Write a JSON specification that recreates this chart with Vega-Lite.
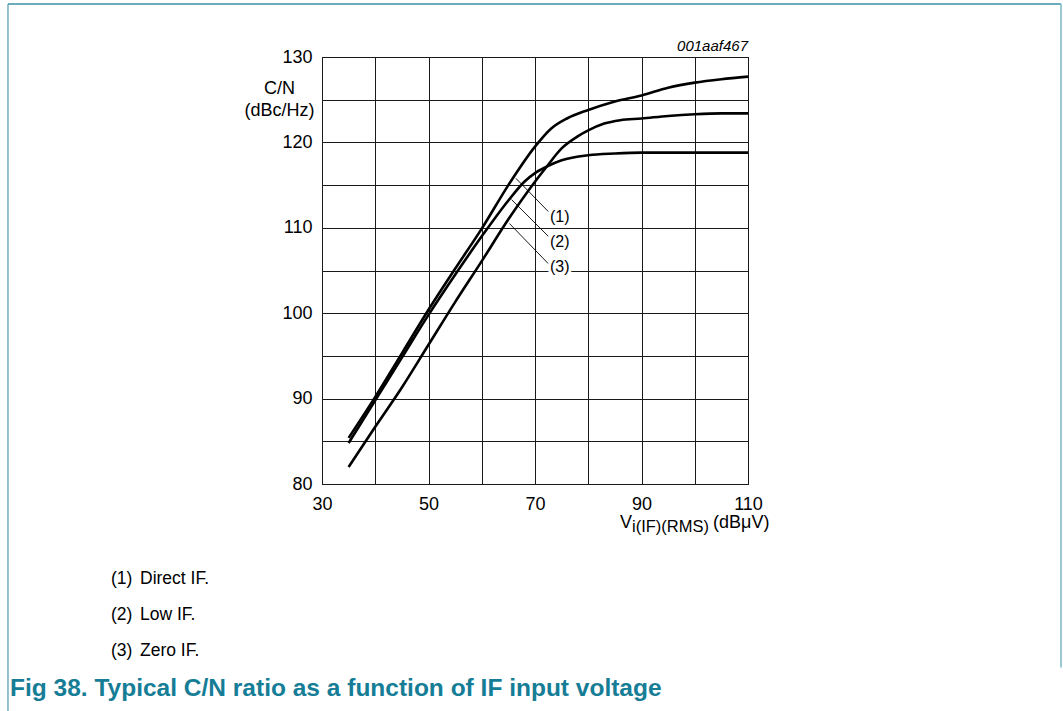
{
  "$schema": "https://vega.github.io/schema/vega-lite/v6.json",
  "width": 426,
  "height": 427,
  "autosize": {"type": "none"},
  "padding": {"left": 322, "top": 57, "right": 315, "bottom": 227},
  "background": "white",
  "config": {
    "view": {"stroke": "#000", "strokeWidth": 1},
    "font": "Liberation Sans",
    "text": {"font": "Liberation Sans", "color": "#000"}
  },
  "data": {"values": [{}]},
  "layer": [
    {
      "data": {
        "values": [
          {"series": "(1) Direct IF.", "x": 35, "y": 85.4},
          {"series": "(1) Direct IF.", "x": 40, "y": 90.2},
          {"series": "(1) Direct IF.", "x": 45, "y": 95.3},
          {"series": "(1) Direct IF.", "x": 50, "y": 100.4},
          {"series": "(1) Direct IF.", "x": 55, "y": 105.2},
          {"series": "(1) Direct IF.", "x": 60, "y": 109.9},
          {"series": "(1) Direct IF.", "x": 65, "y": 115.0},
          {"series": "(1) Direct IF.", "x": 70, "y": 119.5},
          {"series": "(1) Direct IF.", "x": 73, "y": 121.6},
          {"series": "(1) Direct IF.", "x": 76, "y": 122.8},
          {"series": "(1) Direct IF.", "x": 80, "y": 123.8},
          {"series": "(1) Direct IF.", "x": 85, "y": 124.8},
          {"series": "(1) Direct IF.", "x": 90, "y": 125.5},
          {"series": "(1) Direct IF.", "x": 95, "y": 126.4},
          {"series": "(1) Direct IF.", "x": 100, "y": 127.0},
          {"series": "(1) Direct IF.", "x": 105, "y": 127.4},
          {"series": "(1) Direct IF.", "x": 110, "y": 127.7},
          {"series": "(2) Low IF.", "x": 35, "y": 84.8},
          {"series": "(2) Low IF.", "x": 40, "y": 89.8},
          {"series": "(2) Low IF.", "x": 45, "y": 94.8},
          {"series": "(2) Low IF.", "x": 50, "y": 99.8},
          {"series": "(2) Low IF.", "x": 55, "y": 104.5},
          {"series": "(2) Low IF.", "x": 60, "y": 109.0},
          {"series": "(2) Low IF.", "x": 65, "y": 113.2},
          {"series": "(2) Low IF.", "x": 68, "y": 115.4},
          {"series": "(2) Low IF.", "x": 70, "y": 116.4},
          {"series": "(2) Low IF.", "x": 72, "y": 117.1},
          {"series": "(2) Low IF.", "x": 75, "y": 117.9},
          {"series": "(2) Low IF.", "x": 80, "y": 118.5},
          {"series": "(2) Low IF.", "x": 85, "y": 118.7},
          {"series": "(2) Low IF.", "x": 90, "y": 118.8},
          {"series": "(2) Low IF.", "x": 100, "y": 118.8},
          {"series": "(2) Low IF.", "x": 110, "y": 118.8},
          {"series": "(3) Zero IF.", "x": 35, "y": 82.0},
          {"series": "(3) Zero IF.", "x": 40, "y": 86.7},
          {"series": "(3) Zero IF.", "x": 45, "y": 91.3},
          {"series": "(3) Zero IF.", "x": 50, "y": 96.3},
          {"series": "(3) Zero IF.", "x": 55, "y": 101.3},
          {"series": "(3) Zero IF.", "x": 60, "y": 106.1},
          {"series": "(3) Zero IF.", "x": 65, "y": 111.0},
          {"series": "(3) Zero IF.", "x": 70, "y": 115.4},
          {"series": "(3) Zero IF.", "x": 72, "y": 117.0},
          {"series": "(3) Zero IF.", "x": 75, "y": 119.3},
          {"series": "(3) Zero IF.", "x": 78, "y": 120.7},
          {"series": "(3) Zero IF.", "x": 80, "y": 121.4},
          {"series": "(3) Zero IF.", "x": 83, "y": 122.2},
          {"series": "(3) Zero IF.", "x": 86, "y": 122.6},
          {"series": "(3) Zero IF.", "x": 90, "y": 122.8},
          {"series": "(3) Zero IF.", "x": 95, "y": 123.1},
          {"series": "(3) Zero IF.", "x": 100, "y": 123.3},
          {"series": "(3) Zero IF.", "x": 105, "y": 123.4},
          {"series": "(3) Zero IF.", "x": 110, "y": 123.4}
        ]
      },
      "mark": {"type": "line", "color": "#000", "strokeWidth": 2.6, "interpolate": "monotone"},
      "encoding": {
        "x": {
          "field": "x", "type": "quantitative",
          "scale": {"domain": [30, 110], "nice": false, "zero": false},
          "axis": {
            "values": [30, 40, 50, 60, 70, 80, 90, 100, 110],
            "labelExpr": "datum.value % 20 == 10 ? datum.label : ''",
            "grid": true, "gridColor": "#1a1a1a", "gridWidth": 1,
            "ticks": false, "domain": false,
            "labelFontSize": 18, "labelFont": "Liberation Sans", "labelColor": "#000",
            "labelPadding": 11, "labelFlush": false, "labelOverlap": false,
            "title": null
          }
        },
        "y": {
          "field": "y", "type": "quantitative",
          "scale": {"domain": [80, 130], "nice": false, "zero": false},
          "axis": {
            "values": [80, 85, 90, 95, 100, 105, 110, 115, 120, 125, 130],
            "labelExpr": "datum.value % 10 == 0 ? datum.label : ''",
            "grid": true, "gridColor": "#1a1a1a", "gridWidth": 1,
            "ticks": false, "domain": false,
            "labelFontSize": 18, "labelFont": "Liberation Sans", "labelColor": "#000",
            "labelPadding": 10, "labelFlush": false, "labelOverlap": false,
            "title": ["C/N", "(dBc/Hz)"],
            "titleAngle": 0, "titleAlign": "center", "titleBaseline": "alphabetic",
            "titleX": -43, "titleY": 36, "titleLineHeight": 22,
            "titleFont": "Liberation Sans", "titleFontSize": 18, "titleFontWeight": "normal", "titleColor": "#000"
          }
        },
        "detail": {"field": "series", "type": "nominal"}
      }
    },
    {
      "data": {
        "values": [
          {"label": "(1)", "x": 66.4, "y": 115.8, "x2": 72.5, "y2": 111.9},
          {"label": "(2)", "x": 65.6, "y": 113.3, "x2": 72.5, "y2": 109.0},
          {"label": "(3)", "x": 65.2, "y": 110.5, "x2": 72.5, "y2": 105.8}
        ]
      },
      "mark": {"type": "rule", "color": "#000", "strokeWidth": 0.9},
      "encoding": {
        "x": {"field": "x", "type": "quantitative", "scale": {"domain": [30, 110], "nice": false, "zero": false}},
        "y": {"field": "y", "type": "quantitative", "scale": {"domain": [80, 130], "nice": false, "zero": false}},
        "x2": {"field": "x2"},
        "y2": {"field": "y2"}
      }
    },
    {
      "data": {
        "values": [
          {"label": "(1)", "x": 72.8, "y": 111.3},
          {"label": "(2)", "x": 72.8, "y": 108.3},
          {"label": "(3)", "x": 72.8, "y": 105.45}
        ]
      },
      "mark": {"type": "text", "align": "left", "baseline": "middle", "fontSize": 16, "stroke": "white", "strokeWidth": 6, "fill": "white"},
      "encoding": {
        "x": {"field": "x", "type": "quantitative", "scale": {"domain": [30, 110], "nice": false, "zero": false}},
        "y": {"field": "y", "type": "quantitative", "scale": {"domain": [80, 130], "nice": false, "zero": false}},
        "text": {"field": "label"}
      }
    },
    {
      "data": {
        "values": [
          {"label": "(1)", "x": 72.8, "y": 111.3},
          {"label": "(2)", "x": 72.8, "y": 108.3},
          {"label": "(3)", "x": 72.8, "y": 105.45}
        ]
      },
      "mark": {"type": "text", "align": "left", "baseline": "middle", "fontSize": 16, "color": "#000"},
      "encoding": {
        "x": {"field": "x", "type": "quantitative", "scale": {"domain": [30, 110], "nice": false, "zero": false}},
        "y": {"field": "y", "type": "quantitative", "scale": {"domain": [80, 130], "nice": false, "zero": false}},
        "text": {"field": "label"}
      }
    },
    {
      "mark": {"type": "text", "align": "right", "baseline": "alphabetic", "fontSize": 15, "fontStyle": "italic", "color": "#000"},
      "encoding": {
        "x": {"datum": 110, "type": "quantitative", "scale": {"domain": [30, 110], "nice": false, "zero": false}},
        "y": {"datum": 130.75, "type": "quantitative", "scale": {"domain": [80, 130], "nice": false, "zero": false}},
        "text": {"value": "001aaf467"}
      }
    },
    {
      "mark": {"type": "text", "align": "left", "baseline": "alphabetic", "fontSize": 18, "color": "#000"},
      "encoding": {
        "x": {"datum": 85.96, "type": "quantitative", "scale": {"domain": [30, 110], "nice": false, "zero": false}},
        "y": {"datum": 74.87, "type": "quantitative", "scale": {"domain": [80, 130], "nice": false, "zero": false}},
        "text": {"value": "V"}
      }
    },
    {
      "mark": {"type": "text", "align": "left", "baseline": "alphabetic", "fontSize": 16.5, "color": "#000"},
      "encoding": {
        "x": {"datum": 88.22, "type": "quantitative", "scale": {"domain": [30, 110], "nice": false, "zero": false}},
        "y": {"datum": 74.4, "type": "quantitative", "scale": {"domain": [80, 130], "nice": false, "zero": false}},
        "text": {"value": "i(IF)(RMS)"}
      }
    },
    {
      "mark": {"type": "text", "align": "left", "baseline": "alphabetic", "fontSize": 18, "color": "#000"},
      "encoding": {
        "x": {"datum": 103.43, "type": "quantitative", "scale": {"domain": [30, 110], "nice": false, "zero": false}},
        "y": {"datum": 74.87, "type": "quantitative", "scale": {"domain": [80, 130], "nice": false, "zero": false}},
        "text": {"value": "(dBμV)"}
      }
    },
    {
      "mark": {"type": "text", "align": "left", "baseline": "middle", "fontSize": 17.5, "lineHeight": 36, "color": "#000"},
      "encoding": {
        "x": {"datum": -9.62, "type": "quantitative", "scale": {"domain": [30, 110], "nice": false, "zero": false}},
        "y": {"datum": 68.92, "type": "quantitative", "scale": {"domain": [80, 130], "nice": false, "zero": false}},
        "text": {"value": ["(1)", "(2)", "(3)"]}
      }
    },
    {
      "mark": {"type": "text", "align": "left", "baseline": "middle", "fontSize": 17.5, "lineHeight": 36, "color": "#000"},
      "encoding": {
        "x": {"datum": -4.18, "type": "quantitative", "scale": {"domain": [30, 110], "nice": false, "zero": false}},
        "y": {"datum": 68.92, "type": "quantitative", "scale": {"domain": [80, 130], "nice": false, "zero": false}},
        "text": {"value": ["Direct IF.", "Low IF.", "Zero IF."]}
      }
    },
    {
      "mark": {"type": "text", "align": "left", "baseline": "middle", "fontSize": 24.5, "fontWeight": "bold", "color": "#167d96"},
      "encoding": {
        "x": {"datum": -28.59, "type": "quantitative", "scale": {"domain": [30, 110], "nice": false, "zero": false}},
        "y": {"datum": 56.0, "type": "quantitative", "scale": {"domain": [80, 130], "nice": false, "zero": false}},
        "text": {"value": "Fig 38.  Typical C/N ratio as a function of IF input voltage"}
      }
    },
    {
      "mark": {"type": "rule", "color": "#3a8fa5", "strokeWidth": 1.5},
      "encoding": {
        "x": {"datum": -28.97, "type": "quantitative", "scale": {"domain": [30, 110], "nice": false, "zero": false}},
        "x2": {"datum": 168.78},
        "y": {"datum": 136.2, "type": "quantitative", "scale": {"domain": [80, 130], "nice": false, "zero": false}}
      }
    },
    {
      "mark": {"type": "rule", "color": "#5aa3b6", "strokeWidth": 1.3},
      "encoding": {
        "x": {"datum": -28.97, "type": "quantitative", "scale": {"domain": [30, 110], "nice": false, "zero": false}},
        "y": {"datum": 136.2, "type": "quantitative", "scale": {"domain": [80, 130], "nice": false, "zero": false}},
        "y2": {"datum": 53.3}
      }
    },
    {
      "mark": {"type": "rule", "color": "#7ab8c6", "strokeWidth": 1.5},
      "encoding": {
        "x": {"datum": 168.78, "type": "quantitative", "scale": {"domain": [30, 110], "nice": false, "zero": false}},
        "y": {"datum": 136.2, "type": "quantitative", "scale": {"domain": [80, 130], "nice": false, "zero": false}},
        "y2": {"datum": 58.5}
      }
    }
  ]
}
